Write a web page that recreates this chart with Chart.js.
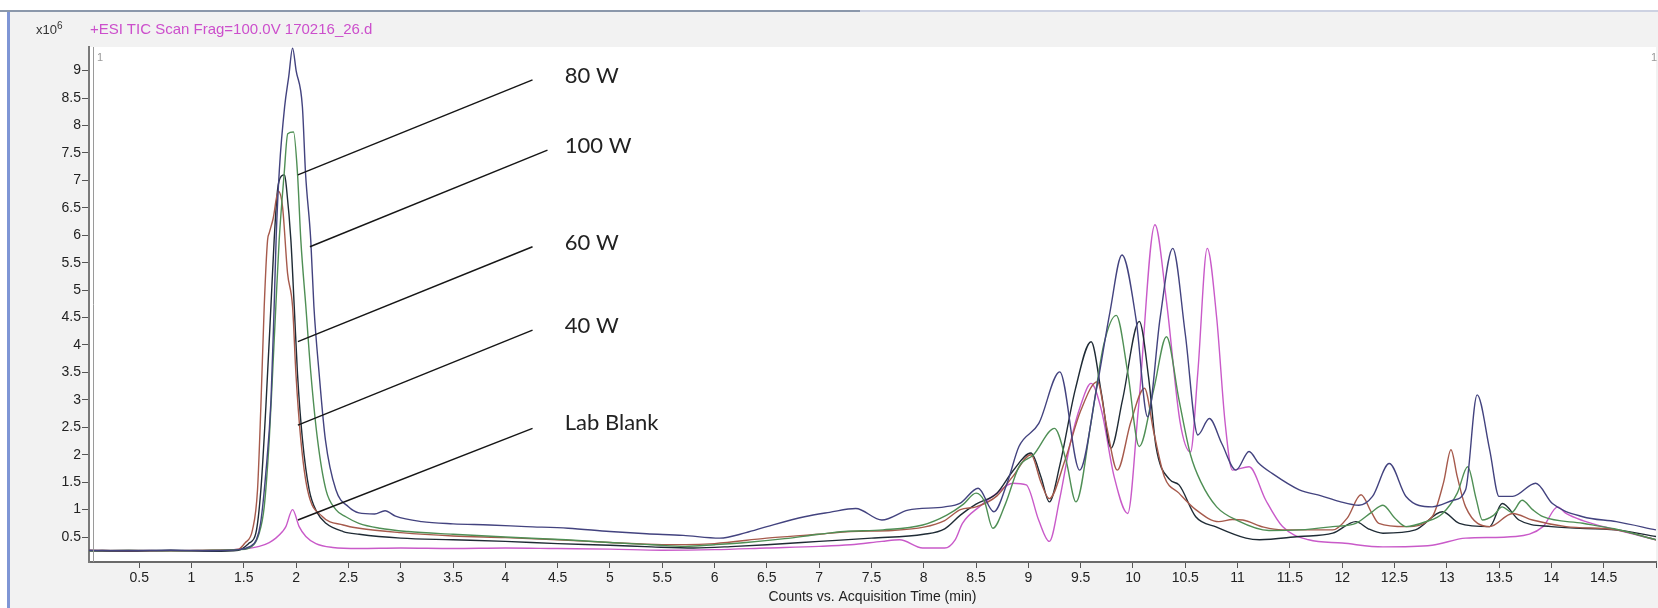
<!DOCTYPE html>
<html>

<head>
    <script src="https://cdn.jsdelivr.net/npm/chart.js@4.4.1/dist/chart.umd.min.js"></script>
    <style>
        body {
            margin: 0;
            background: #fff;
            font-family: 'Liberation Sans', Arial, sans-serif;
        }

        #topbar {
            position: absolute;
            left: 0;
            top: 10px;
            width: 1658px;
            height: 2px;
            background: linear-gradient(to right, #8b98ab 0, #8b98ab 860px, #cdd2e2 860px);
        }

        #panel {
            position: absolute;
            left: 7px;
            top: 12px;
            width: 1648px;
            height: 596px;
            background: #f2f2f2;
            border-left: 3px solid #7f96d5;
        }

        canvas {
            position: absolute;
            left: 0;
            top: 0;
        }

        .txt {
            position: absolute;
            line-height: 1;
            white-space: nowrap;
        }

        #unit {
            left: 36px;
            top: 21px;
            font-size: 13px;
            color: #333;
        }

        #unit sup {
            font-size: 10px;
        }

        #desc {
            left: 90px;
            top: 21px;
            font-size: 15px;
            color: #cc4fcc;
        }

        .trace-no {
            top: 52px;
            font-size: 11px;
            color: #999;
        }
    </style>
    <title>TIC overlay</title>
</head>

<body>
    <div id="topbar"></div>
    <div id="panel"></div>
    <canvas id="tic" width="1658" height="608"></canvas>
    <div class="txt" id="unit">x10<sup>6</sup></div>
    <div class="txt" id="desc">+ESI TIC Scan Frag=100.0V 170216_26.d</div>
    <div class="txt trace-no" style="left:97px">1</div>
    <div class="txt trace-no" style="left:1651px">1</div>

    <script>
        // tick positions (min / counts x10^6)
        var xTicks = [0.5, 1, 1.5, 2, 2.5, 3, 3.5, 4, 4.5, 5, 5.5, 6, 6.5, 7, 7.5, 8, 8.5, 9, 9.5, 10,
            10.5, 11, 11.5, 12, 12.5, 13, 13.5, 14, 14.5, 15];
        var yTicks = [0.5, 1, 1.5, 2, 2.5, 3, 3.5, 4, 4.5, 5, 5.5, 6, 6.5, 7, 7.5, 8, 8.5, 9];

        // traces: [time (min), counts (x10^6)]
        var w100 = [[0.02, 0.26], [0.4, 0.25], [0.8, 0.26], [1.2, 0.25], [1.45, 0.27], [1.55, 0.32], [1.62, 0.45],
            [1.66, 0.75], [1.71, 1.66], [1.76, 3.0], [1.79, 4.7], [1.81, 6.0], [1.84, 7.2], [1.89, 8.34], [1.93, 8.9],
            [1.966, 9.41], [2.0, 9.0], [2.06, 8.34], [2.09, 7.13], [2.14, 5.91], [2.17, 4.7], [2.22, 3.48], [2.28, 2.27],
            [2.38, 1.36], [2.5, 1.05], [2.6, 0.94], [2.75, 0.92], [2.85, 0.98], [2.95, 0.88], [3.2, 0.78], [3.5, 0.74],
            [3.85, 0.72], [4.2, 0.69], [4.6, 0.66], [5.0, 0.6], [5.35, 0.56], [5.7, 0.53], [6.05, 0.48], [6.3, 0.58],
            [6.5, 0.69], [6.86, 0.87], [7.1, 0.95], [7.35, 1.02], [7.6, 0.81], [7.85, 0.99], [8.2, 1.05], [8.35, 1.12],
            [8.52, 1.39], [8.67, 0.96], [8.8, 1.5], [8.91, 2.15], [9.1, 2.57], [9.3, 3.51], [9.49, 1.72], [9.65, 3.18],
            [9.78, 4.6], [9.895, 5.64], [10.03, 4.46], [10.14, 2.69], [10.26, 4.5], [10.38, 5.76], [10.5, 4.2],
            [10.62, 2.36], [10.73, 2.66], [10.85, 2.2], [10.985, 1.72], [11.11, 2.06], [11.2, 1.85], [11.33, 1.66],
            [11.59, 1.36], [11.8, 1.25], [11.97, 1.15], [12.16, 1.08], [12.29, 1.24], [12.45, 1.84], [12.61, 1.24],
            [12.86, 1.05], [13.06, 1.17], [13.18, 1.36], [13.29, 3.09], [13.41, 2.09], [13.5, 1.24], [13.63, 1.24],
            [13.85, 1.48], [14.01, 1.11], [14.3, 0.87], [14.62, 0.78], [15.0, 0.63]];

        var w80 = [[0.02, 0.25], [0.4, 0.26], [0.8, 0.25], [1.2, 0.26], [1.45, 0.27], [1.55, 0.3], [1.647, 0.57],
            [1.695, 1.05], [1.743, 2.27], [1.775, 3.48], [1.806, 4.7], [1.838, 5.91], [1.886, 7.13], [1.92, 7.85],
            [1.975, 7.88], [2.013, 7.13], [2.045, 5.91], [2.093, 4.7], [2.141, 3.48], [2.205, 2.27], [2.285, 1.36],
            [2.38, 1.0], [2.475, 0.87], [2.6, 0.75], [2.8, 0.66], [3.07, 0.6], [3.5, 0.55], [4.0, 0.5], [4.58, 0.45],
            [5.0, 0.4], [5.4, 0.36], [5.72, 0.33], [6.0, 0.36], [6.3, 0.4], [6.67, 0.47], [7.0, 0.55], [7.24, 0.6],
            [7.61, 0.63], [7.99, 0.72], [8.22, 0.9], [8.38, 1.1], [8.5, 1.3], [8.58, 1.15], [8.66, 0.66], [8.78, 1.1],
            [8.91, 1.78], [9.05, 2.0], [9.25, 2.48], [9.36, 1.9], [9.455, 1.14], [9.6, 2.6], [9.72, 4.0], [9.84, 4.54],
            [9.95, 3.5], [10.06, 2.15], [10.2, 3.2], [10.32, 4.15], [10.44, 3.0], [10.55, 2.0], [10.65, 1.5],
            [10.8, 1.05], [11.0, 0.8], [11.3, 0.62], [11.59, 0.63], [11.91, 0.69], [12.13, 0.75], [12.28, 0.95],
            [12.39, 1.08], [12.5, 0.85], [12.61, 0.69], [12.8, 0.78], [12.96, 0.93], [13.1, 1.3], [13.2, 1.78],
            [13.28, 1.2], [13.34, 0.81], [13.45, 0.9], [13.53, 1.05], [13.62, 0.95], [13.72, 1.17], [13.82, 1.0],
            [13.92, 0.87], [14.3, 0.75], [14.6, 0.65], [15.0, 0.45]];

        var w60 = [[0.02, 0.26], [0.4, 0.25], [0.8, 0.25], [1.2, 0.26], [1.45, 0.28], [1.51, 0.39], [1.583, 0.63],
            [1.631, 1.36], [1.663, 2.88], [1.695, 4.7], [1.727, 5.91], [1.743, 6.04], [1.78, 6.3], [1.83, 6.8],
            [1.87, 6.52], [1.918, 5.31], [1.966, 4.7], [1.998, 3.48], [2.045, 2.27], [2.109, 1.36], [2.253, 0.87],
            [2.45, 0.72], [2.603, 0.66], [3.0, 0.58], [3.5, 0.52], [4.0, 0.49], [4.5, 0.45], [5.0, 0.4], [5.5, 0.36],
            [6.0, 0.38], [6.5, 0.48], [7.0, 0.55], [7.3, 0.6], [7.7, 0.62], [8.0, 0.68], [8.2, 0.8], [8.35, 1.0],
            [8.5, 1.05], [8.7, 1.25], [8.85, 1.6], [9.025, 2.0], [9.12, 1.5], [9.2, 1.2], [9.35, 1.9], [9.5, 2.8],
            [9.66, 3.33], [9.75, 2.5], [9.85, 1.72], [9.98, 2.6], [10.11, 3.21], [10.2, 2.4], [10.3, 1.6],
            [10.44, 1.3], [10.6, 1.0], [10.82, 0.78], [10.95, 0.82], [11.05, 0.81], [11.25, 0.68], [11.43, 0.63],
            [11.91, 0.63], [12.05, 0.85], [12.18, 1.27], [12.28, 0.95], [12.35, 0.75], [12.61, 0.69], [12.86, 0.87],
            [12.97, 1.5], [13.04, 2.09], [13.1, 1.6], [13.18, 1.05], [13.41, 0.69], [13.63, 0.93], [13.82, 0.81],
            [14.14, 0.69], [14.62, 0.63], [15.0, 0.45]];

        var w40 = [[0.02, 0.25], [0.4, 0.24], [0.8, 0.26], [1.2, 0.24], [1.45, 0.26], [1.551, 0.39], [1.615, 0.57],
            [1.663, 1.36], [1.711, 2.88], [1.759, 4.7], [1.79, 5.91], [1.822, 6.82], [1.86, 7.08], [1.89, 7.1],
            [1.91, 6.82], [1.95, 5.91], [1.982, 4.7], [2.013, 3.48], [2.061, 2.27], [2.125, 1.36], [2.2, 0.95],
            [2.285, 0.75], [2.45, 0.6], [2.603, 0.55], [3.0, 0.48], [3.5, 0.45], [4.0, 0.42], [4.5, 0.38], [5.0, 0.35],
            [5.4, 0.32], [5.8, 0.3], [6.2, 0.33], [6.5, 0.36], [7.0, 0.42], [7.5, 0.48], [8.0, 0.55], [8.2, 0.65],
            [8.35, 0.9], [8.5, 1.1], [8.7, 1.3], [8.85, 1.7], [9.025, 2.03], [9.12, 1.6], [9.2, 1.14], [9.3, 1.8],
            [9.45, 3.2], [9.6, 4.06], [9.7, 3.1], [9.79, 2.12], [9.9, 3.0], [10.06, 4.43], [10.15, 3.4], [10.22, 2.15],
            [10.35, 1.55], [10.44, 1.45], [10.6, 0.87], [10.8, 0.68], [11.08, 0.48], [11.21, 0.45], [11.59, 0.51],
            [11.91, 0.57], [12.13, 0.78], [12.25, 0.65], [12.39, 0.57], [12.7, 0.63], [12.96, 0.96], [13.12, 0.75],
            [13.41, 0.69], [13.53, 1.11], [13.69, 0.81], [14.0, 0.69], [14.62, 0.63], [15.0, 0.51]];

        var blank = [[0.02, 0.25], [0.4, 0.26], [0.8, 0.25], [1.2, 0.26], [1.488, 0.28], [1.647, 0.33], [1.743, 0.4],
            [1.806, 0.48], [1.87, 0.6], [1.902, 0.69], [1.966, 1.0], [2.029, 0.69], [2.093, 0.51], [2.189, 0.38],
            [2.35, 0.31], [2.6, 0.29], [3.0, 0.3], [3.5, 0.29], [4.0, 0.3], [4.5, 0.29], [5.0, 0.28], [5.5, 0.26],
            [6.0, 0.27], [6.5, 0.3], [7.0, 0.33], [7.3, 0.36], [7.6, 0.42], [7.77, 0.45], [7.99, 0.3], [8.2, 0.3],
            [8.3, 0.45], [8.37, 0.75], [8.53, 1.05], [8.7, 1.3], [8.85, 1.48], [8.98, 1.45], [9.1, 0.8], [9.2, 0.42],
            [9.3, 1.2], [9.4, 2.2], [9.5, 2.9], [9.6, 3.3], [9.7, 2.8], [9.82, 1.6], [9.95, 0.93], [10.05, 2.8],
            [10.21, 6.19], [10.32, 4.8], [10.45, 2.6], [10.55, 2.05], [10.62, 3.5], [10.71, 5.76], [10.8, 4.5],
            [10.88, 2.6], [10.95, 1.72], [11.11, 1.78], [11.27, 1.17], [11.43, 0.69], [11.68, 0.45], [12.0, 0.39],
            [12.39, 0.32], [12.86, 0.35], [13.18, 0.48], [13.66, 0.51], [13.92, 0.69], [14.06, 1.05], [14.14, 0.93],
            [14.3, 0.8], [14.62, 0.63], [15.0, 0.45]];

        // callout lines and their labels, in data units
        var calloutNames = ['80 W', '100 W', '60 W', '40 W', 'Lab Blank'];
        var calloutFrom = [[2.017, 7.10], [2.132, 5.79], [2.017, 4.06], [2.017, 2.54], [2.017, 0.81]];
        var calloutTo = [[4.26, 8.83], [4.403, 7.55], [4.26, 5.79], [4.26, 4.27], [4.26, 2.48]];
        var calloutAt = [[4.568, 8.90], [4.568, 7.62], [4.568, 5.86], [4.568, 4.35], [4.568, 2.58]];

        function pts(arr) {
            return arr.map(function (p) { return { x: p[0], y: p[1] }; });
        }

        var plotBg = {
            id: 'plotBg',
            beforeDraw: function (chart) {
                var a = chart.chartArea, ctx = chart.ctx;
                ctx.save();
                ctx.fillStyle = '#fff';
                ctx.fillRect(a.left, a.top, a.right - a.left, a.bottom - a.top);
                ctx.restore();
            },
            afterDraw: function (chart) {
                // second rule of the doubled y axis
                var a = chart.chartArea, ctx = chart.ctx;
                ctx.save();
                ctx.strokeStyle = '#9a9a9a';
                ctx.lineWidth = 1;
                ctx.beginPath();
                ctx.moveTo(a.left + 4.5, a.top);
                ctx.lineTo(a.left + 4.5, a.bottom);
                ctx.stroke();
                ctx.restore();
            }
        };

        var callouts = {
            id: 'callouts',
            afterDatasetsDraw: function (chart) {
                var ctx = chart.ctx, x = chart.scales.x, y = chart.scales.y;
                ctx.save();
                ctx.strokeStyle = '#161616';
                ctx.lineWidth = 1.5;
                calloutFrom.forEach(function (p, i) {
                    var q = calloutTo[i];
                    ctx.beginPath();
                    ctx.moveTo(x.getPixelForValue(p[0]), y.getPixelForValue(p[1]));
                    ctx.lineTo(x.getPixelForValue(q[0]), y.getPixelForValue(q[1]));
                    ctx.stroke();
                });
                ctx.font = '22px Lato';
                ctx.fillStyle = '#222';
                ctx.textBaseline = 'middle';
                calloutNames.forEach(function (s, i) {
                    ctx.fillText(s, x.getPixelForValue(calloutAt[i][0]), y.getPixelForValue(calloutAt[i][1]));
                });
                ctx.restore();
            }
        };

        Chart.defaults.font.family = "'Liberation Sans', Arial, sans-serif";

        var ctx = document.getElementById('tic').getContext('2d');
        var chart = new Chart(ctx, {
            type: 'line',
            data: {
                datasets: [{
                    label: '100 W',
                    borderColor: '#43437f',
                    data: pts(w100)
                }, {
                    label: '80 W',
                    borderColor: '#4f8f55',
                    data: pts(w80)
                }, {
                    label: '60 W',
                    borderColor: '#a65a4c',
                    data: pts(w60)
                }, {
                    label: '40 W',
                    borderColor: '#1f2b35',
                    data: pts(w40)
                }, {
                    label: 'Lab Blank',
                    borderColor: '#c95ac9',
                    data: pts(blank)
                }]
            },
            options: {
                responsive: false,
                animation: false,
                layout: {
                    padding: { top: 47, right: 1, left: 0, bottom: 0 }
                },
                plugins: {
                    legend: { display: false },
                    tooltip: { enabled: false }
                },
                elements: {
                    point: { radius: 0 },
                    line: { borderWidth: 1.4, cubicInterpolationMode: 'monotone' }
                },
                scales: {
                    x: {
                        type: 'linear',
                        min: 0.02,
                        max: 15,
                        afterFit: function (s) { s.height = 46; },
                        afterBuildTicks: function (s) {
                            s.ticks = xTicks.map(function (v) { return { value: v }; });
                        },
                        ticks: {
                            autoSkip: false,
                            maxRotation: 0,
                            padding: 2,
                            color: '#222',
                            font: { size: 14 },
                            callback: function (v) { return v === 15 ? '' : String(v); }
                        },
                        grid: { drawOnChartArea: false, tickLength: 6, color: '#555' },
                        border: { color: '#6a6a6a', width: 2 },
                        title: {
                            display: true,
                            text: 'Counts vs. Acquisition Time (min)',
                            color: '#222',
                            font: { size: 14 },
                            padding: { top: 0, bottom: 2 }
                        }
                    },
                    y: {
                        min: 0.045,
                        max: 9.43,
                        afterFit: function (s) { s.width = 89; },
                        afterBuildTicks: function (s) {
                            s.ticks = yTicks.map(function (v) { return { value: v }; });
                        },
                        ticks: {
                            padding: 1,
                            color: '#222',
                            font: { size: 14 },
                            callback: function (v) { return String(v); }
                        },
                        grid: { drawOnChartArea: false, tickLength: 7, color: '#555' },
                        border: { color: '#7a7a7a', width: 2 }
                    }
                }
            },
            plugins: [plotBg, callouts]
        });
    </script>
</body>

</html>
